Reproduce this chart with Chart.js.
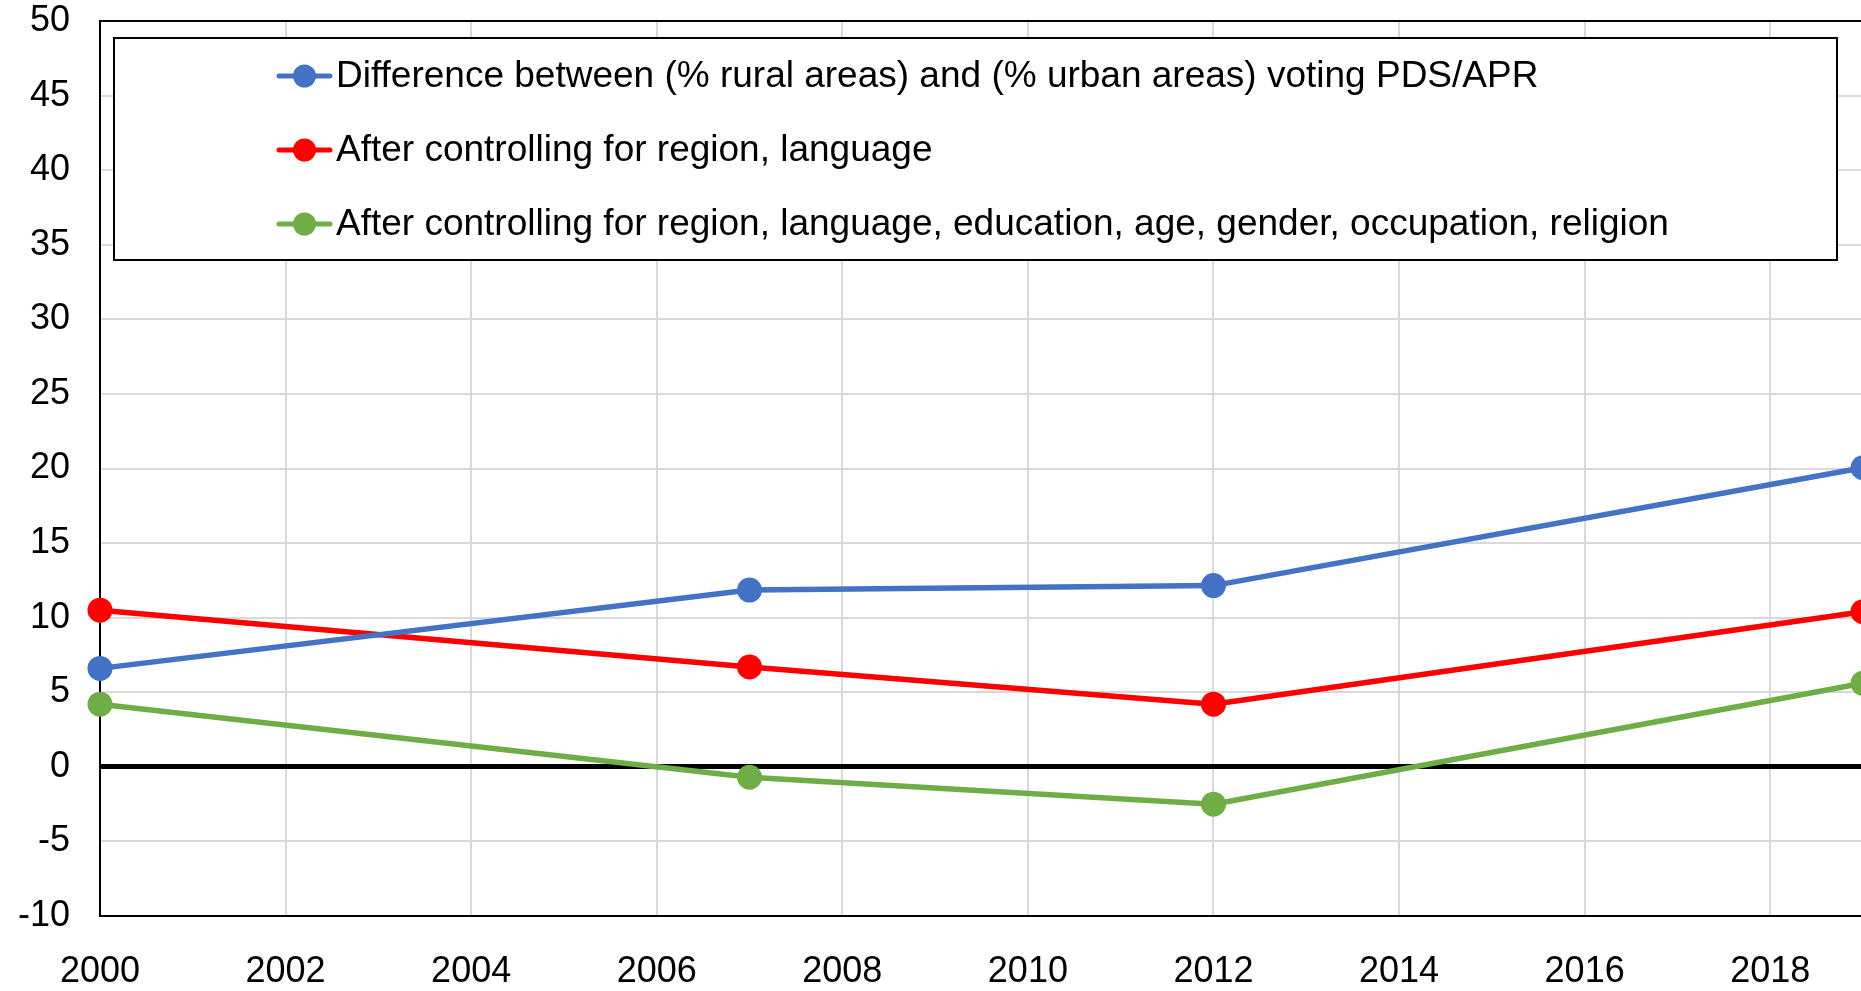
<!DOCTYPE html>
<html lang="en">
<head>
<meta charset="UTF-8" />
<title>Rural-urban voting gap</title>
<script src="https://cdn.jsdelivr.net/npm/chart.js@4.4.0/dist/chart.umd.min.js"></script>
<style>
  html, body { margin: 0; padding: 0; background: #fff; overflow: hidden; }
  #wrap { width: 1900px; height: 991px; }
</style>
</head>
<body>
<div id="wrap"><canvas id="c" width="1900" height="991"></canvas></div>
<script>
// data
const years = [2000, 2007, 2012, 2019];
const diffRaw = [6.6, 11.85, 12.15, 20.05];
const ctrlRegionLang = [10.5, 6.7, 4.2, 10.4];
const ctrlAll = [4.2, -0.7, -2.5, 5.6];
const xTicks = [2000, 2002, 2004, 2006, 2008, 2010, 2012, 2014, 2016, 2018];
const seriesLabels = [
  "Difference between (% rural areas) and (% urban areas) voting PDS/APR",
  "After controlling for region, language",
  "After controlling for region, language, education, age, gender, occupation, religion"
];
const seriesColors = ["#4472C4", "#FF0000", "#70AD47"];

const FONT = "'Liberation Sans', Arial, sans-serif";

const pts = (vals) => vals.map((v, i) => ({ x: years[i], y: v }));

// legend drawn inside the plot area, with a frame round it
const boxedLegend = {
  id: "boxedLegend",
  afterDraw(chart) {
    const { ctx, chartArea } = chart;
    const x0 = chartArea.left + 14, y0 = chartArea.top + 17;
    const x1 = 1837, y1 = 260;
    ctx.save();
    ctx.fillStyle = "#fff";
    ctx.fillRect(x0, y0, x1 - x0, y1 - y0);
    ctx.strokeStyle = "#000";
    ctx.lineWidth = 2;
    ctx.strokeRect(x0, y0, x1 - x0, y1 - y0);
    ctx.font = "37px " + FONT;
    ctx.textBaseline = "middle";
    ctx.textAlign = "left";
    chart.data.datasets.forEach((ds, i) => {
      const y = 76 + i * 74;
      ctx.strokeStyle = ds.borderColor;
      ctx.lineWidth = 5;
      ctx.lineCap = "round";
      ctx.beginPath();
      ctx.moveTo(279, y);
      ctx.lineTo(330, y);
      ctx.stroke();
      ctx.fillStyle = ds.borderColor;
      ctx.beginPath();
      ctx.arc(304.5, y, 11.5, 0, Math.PI * 2);
      ctx.fill();
      ctx.fillStyle = "#000";
      ctx.fillText(ds.label, 336, y + 1);
    });
    ctx.restore();
  }
};

// black frame round the plot area
const plotFrame = {
  id: "plotFrame",
  beforeDatasetsDraw(chart) {
    const { ctx, chartArea } = chart;
    ctx.save();
    ctx.strokeStyle = "#000";
    ctx.lineWidth = 2;
    ctx.strokeRect(chartArea.left, chartArea.top, chartArea.right - chartArea.left, chartArea.bottom - chartArea.top);
    ctx.restore();
  }
};

new Chart(document.getElementById("c"), {
  type: "line",
  data: {
    datasets: [diffRaw, ctrlRegionLang, ctrlAll].map((vals, i) => ({
      label: seriesLabels[i],
      data: pts(vals),
      borderColor: seriesColors[i],
      backgroundColor: seriesColors[i],
      borderWidth: 5.5,
      pointRadius: 12.5,
      pointBorderWidth: 0,
      pointHoverRadius: 12.5,
      tension: 0,
      clip: false
    }))
  },
  options: {
    responsive: false,
    animation: false,
    events: [],
    layout: { padding: { top: 0, right: 37, left: 0, bottom: 0 } },
    plugins: {
      legend: { display: false },
      tooltip: { enabled: false }
    },
    scales: {
      x: {
        type: "linear",
        min: 2000,
        max: 2019,
        afterBuildTicks: (s) => { s.ticks = xTicks.map(v => ({ value: v })); },
        ticks: {
          color: "#000",
          font: { family: FONT, size: 36 },
          padding: 34,
          maxRotation: 0,
          autoSkip: false,
          callback: (v) => String(v)
        },
        grid: { color: "#d9d9d9", lineWidth: 2, drawTicks: false },
        border: { display: false },
        afterFit: (s) => { s.height = 75; s.paddingLeft = 0; s.paddingRight = 0; }
      },
      y: {
        min: -10,
        max: 50,
        ticks: {
          stepSize: 5,
          color: "#000",
          font: { family: FONT, size: 36 },
          padding: 30
        },
        grid: {
          drawTicks: false,
          color: (c) => c.tick && c.tick.value === 0 ? "#000" : "#d9d9d9",
          lineWidth: (c) => c.tick && c.tick.value === 0 ? 5 : 2
        },
        border: { display: false },
        afterFit: (s) => { s.width = 100; s.paddingTop = 21; s.paddingBottom = 0; }
      }
    }
  },
  plugins: [plotFrame, boxedLegend]
});
</script>
</body>
</html>
